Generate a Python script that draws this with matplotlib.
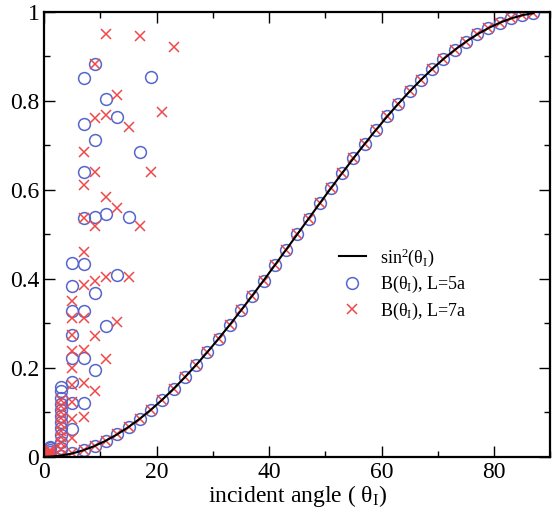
import matplotlib.pyplot as plt
from matplotlib.ticker import MultipleLocator

plt.rcParams['font.family'] = ['Liberation Serif', 'DejaVu Serif']
plt.rcParams['mathtext.fontset'] = 'custom'
plt.rcParams['mathtext.rm'] = 'Liberation Serif'
plt.rcParams['mathtext.it'] = 'Liberation Serif'

# points lying on the sin^2 curve (odd angles, degrees)
curve_angle = [1, 3, 5, 7, 9, 11, 13, 15, 17, 19, 21, 23, 25, 27, 29, 31, 33, 35,
               37, 39, 41, 43, 45, 47, 49, 51, 53, 55, 57, 59, 61, 63, 65, 67,
               69, 71, 73, 75, 77, 79, 81, 83, 85, 87]
curve_val = [0.0003, 0.0027, 0.0076, 0.0149, 0.0245, 0.0364, 0.0506, 0.0670,
             0.0855, 0.1060, 0.1284, 0.1527, 0.1786, 0.2061, 0.2350, 0.2653,
             0.2966, 0.3290, 0.3622, 0.3960, 0.4304, 0.4651, 0.5000, 0.5349,
             0.5696, 0.6040, 0.6378, 0.6710, 0.7034, 0.7347, 0.7650, 0.7939,
             0.8214, 0.8473, 0.8716, 0.8940, 0.9145, 0.9330, 0.9494, 0.9636,
             0.9755, 0.9851, 0.9924, 0.9973]

# off-curve points, grouped by angle
l5_off = [
    (1, [0.005, 0.010, 0.015, 0.020, 0.023]),
    (3, [0.158, 0.147, 0.132, 0.119, 0.106, 0.092, 0.079, 0.064, 0.049, 0.034, 0.020]),
    (5, [0.435, 0.383, 0.328, 0.274, 0.222, 0.169, 0.121, 0.062]),
    (7, [0.851, 0.748, 0.641, 0.536, 0.433, 0.328, 0.222, 0.122]),
    (9, [0.883, 0.712, 0.540, 0.368, 0.196]),
    (11, [0.804, 0.546, 0.293]),
    (13, [0.763, 0.408]),
    (15, [0.539]),
    (17, [0.686]),
    (19, [0.853]),
]
l7_off = [
    (1, [0.0, 0.003, 0.006, 0.009, 0.012, 0.015]),
    (3, [0.128, 0.114, 0.100, 0.087, 0.073, 0.059, 0.045, 0.031, 0.017]),
    (5, [0.351, 0.312, 0.274, 0.237, 0.200, 0.162, 0.124, 0.085, 0.043]),
    (7, [0.685, 0.611, 0.536, 0.461, 0.387, 0.312, 0.240, 0.166, 0.090]),
    (9, [0.883, 0.761, 0.640, 0.518, 0.394, 0.272, 0.147]),
    (11, [0.950, 0.769, 0.584, 0.403, 0.220]),
    (13, [0.813, 0.559, 0.304]),
    (15, [0.741, 0.403]),
    (17, [0.945, 0.518]),
    (19, [0.640]),
    (21, [0.776]),
    (23, [0.922]),
]


def expand(groups):
    xs, ys = [], []
    for a, vals in groups:
        xs += [a] * len(vals)
        ys += vals
    return xs + curve_angle, ys + curve_val


l5_x, l5_y = expand(l5_off)
l7_x, l7_y = expand(l7_off)

fig = plt.figure(figsize=(5.52, 5.15), dpi=100)
ax = fig.add_axes([0.08, 0.113, 0.917, 0.864])

blue = '#5566cc'
red = '#f04848'
ax.plot([0] + curve_angle, [0] + curve_val, color='black', lw=1.5,
        label='sin$^2$(θ$_\\mathrm{I}$)', zorder=3)
ax.plot(l5_x, l5_y, 'o', mfc='none', mec=blue, mew=1.1, ms=8.5,
        label='B(θ$_\\mathrm{I}$), L=5a')
ax.plot(l7_x, l7_y, 'x', color=red, mew=1.1, ms=6.5,
        label='B(θ$_\\mathrm{I}$), L=7a')

ax.set_xlim(0, 90)
ax.set_ylim(0, 1)
ax.xaxis.set_major_locator(MultipleLocator(20))
ax.xaxis.set_minor_locator(MultipleLocator(10))
ax.yaxis.set_major_locator(MultipleLocator(0.2))
ax.yaxis.set_minor_locator(MultipleLocator(0.1))
ax.set_yticks([0, 0.2, 0.4, 0.6, 0.8, 1.0], ['0', '0.2', '0.4', '0.6', '0.8', '1'])
ax.tick_params(which='both', direction='in', top=True, right=True, labelsize=17, width=1)
ax.tick_params(which='major', length=8)
ax.tick_params(which='minor', length=4)
for s in ax.spines.values():
    s.set_linewidth(1.6)

ax.set_xlabel('incident angle ( θ$_\\mathrm{I}$)', fontsize=17, labelpad=0)

ax.legend(loc='upper left', bbox_to_anchor=(0.55, 0.51), frameon=False,
          fontsize=13, handlelength=1.5, labelspacing=0.3, handletextpad=0.8)

fig.savefig('out.png', dpi=100)
